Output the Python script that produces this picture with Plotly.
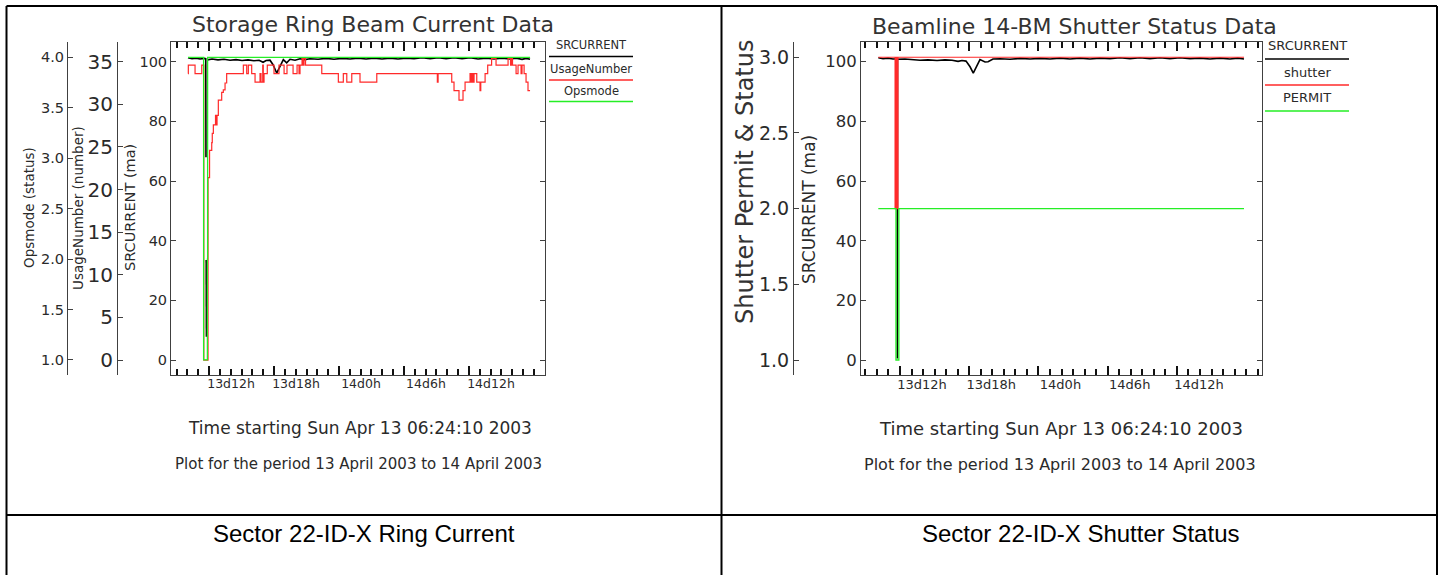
import plotly.graph_objects as go

W, H = 1444, 575

# ---------------- data (hours since 2003-04-13 00:00) ----------------
tick_hours = [12, 18, 24, 30, 36]
tick_labels = ["13d12h", "13d18h", "14d0h", "14d6h", "14d12h"]
hour_ticks = list(range(9, 44))

sr_ticks = [0, 20, 40, 60, 80, 100]
usage_ticks = [0, 5, 10, 15, 20, 25, 30, 35]
opsmode_ticks = [1.0, 1.5, 2.0, 2.5, 3.0, 3.5, 4.0]
shutter_ticks = [1.0, 1.5, 2.0, 2.5, 3.0]

# Left chart: Storage Ring Beam Current Data
sr_left_hours = [10.06, 10.43, 10.80, 11.17, 11.54, 11.70, 11.72, 11.73, 11.74, 11.76, 11.80, 11.86,
                 12.28, 12.83, 13.38, 13.94, 14.49, 15.05, 15.60, 16.15, 16.62, 16.99,
                 17.27, 17.63, 17.91, 18.25, 18.56, 18.86, 19.17, 19.48, 19.94, 20.40,
                 20.86, 21.32, 22.07, 22.80, 23.54, 24.28, 25.02, 25.76, 26.50, 27.24,
                 27.97, 28.71, 29.45, 30.19, 30.93, 31.67, 32.41, 33.15, 33.89, 34.62,
                 35.36, 36.10, 36.84, 37.57, 38.31, 39.05, 39.79, 40.35, 40.90, 41.27, 41.64]
sr_left_ma = [101.3, 101.0, 101.2, 100.9, 101.1, 101.0, 68.0, None, 33.5, 7.8, None, 100.6,
              100.9, 100.6, 100.8, 100.5, 100.7, 100.4, 100.6, 100.3, 100.5, 99.8,
              100.4, 100.5, 99.0, 96.2, 98.5, 100.7, 99.6, 100.8, 100.5, 101.0,
              100.7, 101.0, 100.8, 101.1, 100.8, 101.1, 100.9, 101.2, 100.9, 101.2,
              100.9, 101.2, 100.9, 101.2, 101.0, 101.3, 101.0, 101.3, 101.0, 101.3,
              101.0, 101.3, 100.9, 101.2, 100.9, 101.2, 100.9, 101.2, 100.8, 101.1, 100.8]

usage_hours = [10.06, 10.09, 10.71, 11.33, 11.52, 11.91, 12.05, 12.25, 12.30, 12.40,
               12.60, 12.67, 12.74, 12.86, 13.17, 13.32, 13.48, 13.63, 15.17, 15.48,
               15.63, 15.94, 16.25, 16.71, 16.80, 16.96, 17.01, 17.08, 17.38, 18.00,
               18.46, 18.93, 19.20, 19.76, 20.13, 20.31, 20.40, 20.59, 20.68, 20.77,
               20.91, 22.41, 23.94, 24.40, 24.72, 25.18, 25.94, 27.49, 33.08, 33.15,
               34.41, 34.62, 35.08, 35.45, 35.64, 36.10, 36.19, 36.28, 36.38, 36.47,
               36.72, 37.02, 37.09, 37.49, 37.73, 38.09, 38.50, 39.61, 39.84, 39.93,
               40.02, 40.35, 40.53, 40.81, 40.90, 41.09, 41.27, 41.45, 41.64]
usage_number = [33.6, 34.6, 33.6, 34.6, 0.0, 21.4, 24.6, 25.5, 26.6, 27.6,
                28.7, 27.6, 28.7, 30.5, 31.4, 31.7, 32.5, 33.6, 34.6, 33.6,
                34.6, 33.6, 32.6, 33.6, 32.6, 34.6, 32.6, 33.6, 34.6, 33.6,
                34.6, 33.6, 34.6, 33.6, 34.6, 33.6, 34.6, 35.4, 34.6, 35.4,
                34.6, 33.6, 32.6, 33.6, 32.6, 33.6, 32.6, 33.6, 32.6, 33.6,
                32.6, 31.6, 30.5, 31.6, 32.6, 33.6, 32.6, 33.6, 32.6, 33.6,
                32.6, 31.6, 32.6, 33.6, 34.6, 35.4, 34.6, 35.4, 34.6, 35.4,
                34.6, 33.6, 34.6, 33.6, 34.6, 33.6, 32.6, 31.6, 31.6]

opsmode_hours = [10.06, 11.50, 11.85, 11.87, 41.64]
opsmode_status = [4.0, 1.0, 2.0, 4.0, 4.0]

# Right chart: Beamline 14-BM Shutter Status Data
sr_right_hours = [10.12, 10.53, 10.96, 11.39, 11.70, 11.76, 11.77, 11.78,
                  12.43, 13.04, 13.73, 14.43, 15.21, 15.90, 16.51, 17.03, 17.37, 17.72,
                  18.07, 18.35, 18.67, 18.93, 19.37, 19.63, 20.06,
                  20.67, 21.53, 22.40, 23.27, 24.13, 25.00, 25.86, 26.73, 27.60, 28.46,
                  29.33, 30.20, 31.06, 31.93, 32.79, 33.66, 34.53, 35.39, 36.26, 37.13,
                  37.99, 38.86, 39.73, 40.59, 41.28, 41.81]
sr_right_ma = [101.3, 101.0, 101.2, 100.9, 101.0, 101.0, 0.5, 100.8,
               100.9, 100.7, 100.5, 100.6, 100.4, 100.6, 100.5, 100.1, 100.4, 100.2,
               98.3, 96.2, 98.5, 100.7, 99.9, 100.0, 100.9,
               101.0, 100.8, 101.1, 100.9, 101.1, 100.9, 101.2, 100.9, 101.2, 100.9,
               101.2, 101.0, 101.3, 101.0, 101.3, 101.0, 101.3, 101.0, 101.3, 101.0,
               101.2, 100.9, 101.2, 100.9, 101.2, 100.9]

shutter_hours = [10.12, 11.57, 11.66, 11.74, 11.83, 41.81]
shutter_status = [3.0, 2.0, 3.0, 2.0, 3.0, 3.0]

permit_hours = [10.12, 11.65, 11.90, 41.81]
permit_status = [2.0, 1.0, 2.0, 2.0]

# ---------------- styling ----------------
FONT = "DejaVu Sans"
CAP_FONT = "Liberation Sans"
TXT = "#2a2a2a"
AX = "#404040"
RED = "#ff2a2a"
GREEN = "#25ee25"
BLACK = "#000000"

LEFT_XRANGE = [8.49, 43.02]
RIGHT_XRANGE = [8.62, 43.37]


def fx(px):
    return px / W


def fy(py):
    return 1 - py / H


ydom = [fy(375), fy(42)]

fig = go.Figure()

fig.add_trace(go.Scatter(x=sr_left_hours, y=sr_left_ma, xaxis="x", yaxis="y", mode="lines",
                         line=dict(color=BLACK, width=1.6), connectgaps=False, name="SRCURRENT"))
fig.add_trace(go.Scatter(x=usage_hours, y=usage_number, xaxis="x", yaxis="y2", mode="lines",
                         line=dict(color=RED, width=1.2, shape="hv"), name="UsageNumber"))
fig.add_trace(go.Scatter(x=opsmode_hours, y=opsmode_status, xaxis="x", yaxis="y3", mode="lines",
                         line=dict(color=GREEN, width=1.3, shape="hv"), name="Opsmode"))

fig.add_trace(go.Scatter(x=sr_right_hours, y=sr_right_ma, xaxis="x2", yaxis="y4", mode="lines",
                         line=dict(color=BLACK, width=1.6), name="SRCURRENT"))
fig.add_trace(go.Scatter(x=shutter_hours, y=shutter_status, xaxis="x2", yaxis="y5", mode="lines",
                         line=dict(color=RED, width=1.1, shape="hv"), name="shutter"))
fig.add_trace(go.Scatter(x=permit_hours, y=permit_status, xaxis="x2", yaxis="y5", mode="lines",
                         line=dict(color=GREEN, width=1.3, shape="hv"), name="PERMIT"))

# empty traces so the long-tick overlay axes get their subplots
fig.add_trace(go.Scatter(x=[], y=[], xaxis="x3", yaxis="y", mode="lines", hoverinfo="skip"))
fig.add_trace(go.Scatter(x=[], y=[], xaxis="x4", yaxis="y4", mode="lines", hoverinfo="skip"))

base = dict(showgrid=False, zeroline=False, showline=True, linecolor=AX, linewidth=1,
            ticks="inside", tickcolor=AX, tickwidth=1, ticklen=5)


def xax(domain, rng, anchor, size):
    # hourly tick comb with labels every 6 hours
    labels = [tick_labels[tick_hours.index(h)] if h in tick_hours else "" for h in hour_ticks]
    return dict(base, domain=domain, range=rng, anchor=anchor, mirror="ticks",
                tickmode="array", tickvals=hour_ticks, ticktext=labels, ticklen=6,
                tickwidth=1.5, tickcolor="#111111",
                ticklabelshift=22, ticklabelstandoff=-3,
                tickfont=dict(family=FONT, size=size, color=TXT))


def xlong(over, rng, anchor):
    # longer ticks at the labelled 6-hour marks
    return dict(showgrid=False, zeroline=False, showline=False, overlaying=over, anchor=anchor,
                range=rng, tickmode="array", tickvals=tick_hours, ticks="inside",
                ticklen=9, tickcolor="#111111", tickwidth=1.5, mirror="ticks",
                showticklabels=False)


def yax(rng, vals, size, fmt=None, **kw):
    d = dict(base, range=rng, tickmode="array", tickvals=vals,
             tickfont=dict(family=FONT, size=size, color=TXT), **kw)
    if fmt:
        d["tickformat"] = fmt
    return d


fig.update_layout(
    width=W, height=H, margin=dict(l=0, r=0, t=0, b=0),
    paper_bgcolor="white", plot_bgcolor="white", showlegend=False,
    xaxis=xax([fx(171), fx(545)], LEFT_XRANGE, "y", 12.5),
    xaxis3=xlong("x", LEFT_XRANGE, "y"),
    yaxis=yax([-5.0, 106.6], sr_ticks, 14.5, domain=ydom, anchor="x", mirror="ticks"),
    yaxis2=yax([-1.75, 37.31], usage_ticks, 20, overlaying="y", anchor="free",
               position=fx(117), side="left"),
    yaxis3=yax([0.851, 4.152], opsmode_ticks, 14.5, ".1f", overlaying="y", anchor="free",
               position=fx(67), side="left"),
    xaxis2=xax([fx(861), fx(1262)], RIGHT_XRANGE, "y4", 13),
    xaxis4=xlong("x2", RIGHT_XRANGE, "y4"),
    yaxis4=yax([-5.0, 106.6], sr_ticks, 16.5, domain=ydom, anchor="x2", mirror="ticks"),
    yaxis5=yax([0.901, 3.101], shutter_ticks, 19, ".1f", overlaying="y4", anchor="free",
               position=fx(793), side="left"),
)


def label(text, x, y, size, family=FONT, angle=0, color=TXT):
    return dict(text=text, x=fx(x), y=fy(y), xref="paper", yref="paper", showarrow=False,
                xanchor="center", yanchor="middle", textangle=angle,
                font=dict(family=family, size=size, color=color))


annotations = [
    label("Storage Ring Beam Current Data", 373, 24, 22, color="#333333"),
    label("Beamline 14-BM Shutter Status Data", 1074, 26, 22, color="#333333"),
    label("Opsmode (status)", 29, 208, 13.5, angle=-90),
    label("UsageNumber (number)", 78, 208, 13.5, angle=-90),
    label("SRCURRENT (ma)", 130, 208, 14.5, angle=-90),
    label("Shutter Permit & Status", 745, 182, 24, angle=-90, color="#333333"),
    label("SRCURRENT (ma)", 809, 210, 17, angle=-90),
    label("SRCURRENT", 591, 45, 11.5),
    label("UsageNumber", 591, 69, 11.5),
    label("Opsmode", 591, 91, 11.5),
    label("SRCURRENT", 1307, 46, 13),
    label("shutter", 1307, 73, 13),
    label("PERMIT", 1307, 98, 13),
    label("Time starting Sun Apr 13 06:24:10 2003", 360, 428, 17),
    label("Plot for the period 13 April 2003 to 14 April 2003", 358, 464, 15),
    label("Time starting Sun Apr 13 06:24:10 2003", 1061, 428, 18),
    label("Plot for the period 13 April 2003 to 14 April 2003", 1060, 464, 16),
    label("Sector 22-ID-X Ring Current", 364, 533, 24, family=CAP_FONT, color="#000000"),
    label("Sector 22-ID-X Shutter Status", 1080, 533, 24, family=CAP_FONT, color="#000000"),
]


def hline(x0, x1, y, color, width=1.5):
    return dict(type="line", xref="paper", yref="paper", x0=fx(x0), x1=fx(x1),
                y0=fy(y), y1=fy(y), line=dict(color=color, width=width))


def vline(x, y0, y1, color, width=1.5):
    return dict(type="line", xref="paper", yref="paper", x0=fx(x), x1=fx(x),
                y0=fy(y0), y1=fy(y1), line=dict(color=color, width=width))


shapes = [
    # table frame
    hline(6.5, 1437, 6, BLACK, 2),
    vline(6.5, 6, 575, BLACK, 2),
    vline(1437, 6, 575, BLACK, 2),
    vline(721.5, 6, 575, BLACK, 2),
    hline(6.5, 1437, 515, BLACK, 2),
    # left legend keys
    hline(549, 633, 56.5, BLACK, 1.3),
    hline(549, 633, 80, RED, 1.3),
    hline(549, 633, 101.5, GREEN, 1.3),
    # right legend keys
    hline(1265, 1349, 59, BLACK, 1.3),
    hline(1265, 1349, 85, RED, 1.3),
    hline(1265, 1349, 111, GREEN, 1.3),
]

fig.update_layout(annotations=annotations, shapes=shapes)

fig.write_html("out.html", config={"displayModeBar": False},
               post_script="document.body.style.margin='0';document.body.style.overflow='hidden';")
